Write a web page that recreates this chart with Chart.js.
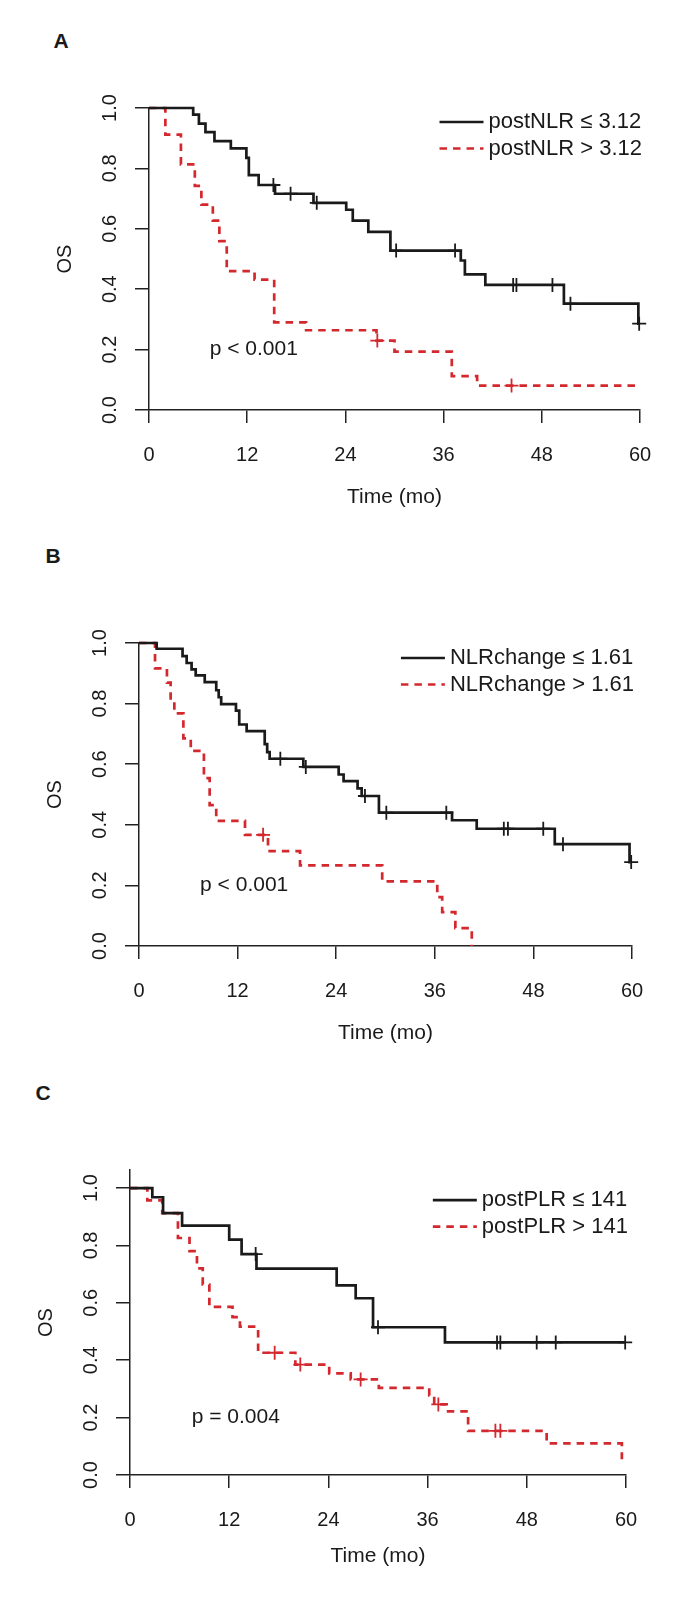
<!DOCTYPE html>
<html>
<head>
<meta charset="utf-8">
<script src="https://cdn.jsdelivr.net/npm/chart.js@4.4.1/dist/chart.umd.min.js"></script>
<style>
  html, body { margin: 0; padding: 0; background: #fff; }
  body { width: 690px; height: 1597px; position: relative; overflow: hidden; }
  canvas { position: absolute; left: 0; }
  .tag { position: absolute; font: bold 21px "Liberation Sans", Arial, sans-serif; color: #1a1a1a;
         line-height: 1; transform: translate(-50%, -50%); }
</style>
</head>
<body>
<div class="tag" style="left:61px;top:40px">A</div>
<div class="tag" style="left:53px;top:555px">B</div>
<div class="tag" style="left:43px;top:1092px">C</div>
<canvas id="chartA" width="690" height="530" style="top:0"></canvas>
<canvas id="chartB" width="690" height="535" style="top:530px"></canvas>
<canvas id="chartC" width="690" height="532" style="top:1065px"></canvas>
<script>
// axis ticks shared by all three panels
const monthTicks = [0, 12, 24, 36, 48, 60];
const osTicks = [0, 0.2, 0.4, 0.6, 0.8, 1.0];

// A: postNLR
const aLowTime = [0, 5.4, 6.1, 6.9, 8.0, 10.0, 11.9, 12.2, 13.4, 15.4, 20.1, 24.1, 24.9, 26.8, 29.5, 38.1, 38.6, 41.1, 50.7, 59.8, 60];
const aLowSurv = [1, 0.978, 0.948, 0.92, 0.89, 0.866, 0.835, 0.778, 0.745, 0.716, 0.686, 0.663, 0.627, 0.59, 0.528, 0.495, 0.449, 0.414, 0.352, 0.286, 0.286];
const aLowCensTime = [15.2, 17.3, 20.5, 30.2, 37.4, 44.5, 44.9, 49.3, 51.5, 59.9];
const aLowCensSurv = [0.745, 0.716, 0.686, 0.528, 0.528, 0.414, 0.414, 0.414, 0.352, 0.286];
const aHighTime = [0, 2.0, 3.9, 5.6, 6.4, 7.8, 8.6, 9.5, 12.9, 15.3, 19.2, 27.8, 30.0, 37.0, 40.1, 60];
const aHighSurv = [1, 0.912, 0.813, 0.742, 0.68, 0.627, 0.559, 0.46, 0.432, 0.29, 0.264, 0.23, 0.193, 0.112, 0.081, 0.081];
const aHighCensTime = [27.9, 44.3];
const aHighCensSurv = [0.23, 0.081];

// B: NLRchange
const bLowTime = [0, 2.15, 5.3, 5.8, 6.4, 6.9, 8.0, 9.4, 9.7, 10.0, 11.8, 12.2, 13.1, 15.3, 15.6, 15.9, 20.0, 24.3, 24.9, 26.6, 27.1, 29.2, 38.1, 41.1, 50.6, 59.7, 60];
const bLowSurv = [1, 0.981, 0.957, 0.934, 0.913, 0.893, 0.871, 0.844, 0.821, 0.798, 0.777, 0.731, 0.709, 0.666, 0.64, 0.618, 0.591, 0.566, 0.544, 0.52, 0.495, 0.44, 0.415, 0.387, 0.336, 0.277, 0.277];
const bLowCensTime = [17.2, 20.3, 27.5, 30.1, 37.4, 44.4, 44.9, 49.2, 51.6, 59.9];
const bLowCensSurv = [0.618, 0.591, 0.495, 0.44, 0.44, 0.387, 0.387, 0.387, 0.336, 0.277];
const bHighTime = [0, 1.95, 3.4, 3.85, 4.3, 5.4, 6.3, 7.9, 8.6, 9.4, 12.9, 15.7, 19.6, 29.6, 36.3, 36.9, 38.5, 40.5];
const bHighSurv = [1, 0.916, 0.869, 0.81, 0.768, 0.685, 0.644, 0.554, 0.465, 0.413, 0.367, 0.313, 0.266, 0.213, 0.161, 0.112, 0.059, 0];
const bHighCensTime = [15.1];
const bHighCensSurv = [0.367];

// C: postPLR
const cLowTime = [0, 2.7, 4.0, 6.3, 12.0, 13.5, 15.3, 25.0, 27.3, 29.4, 38.1, 60];
const cLowSurv = [1, 0.968, 0.913, 0.869, 0.82, 0.77, 0.719, 0.661, 0.616, 0.515, 0.462, 0.462];
const cLowCensTime = [15.2, 30.0, 44.4, 44.8, 49.2, 51.5, 59.9];
const cLowCensSurv = [0.77, 0.515, 0.462, 0.462, 0.462, 0.462, 0.462];
const cHighTime = [0, 2.1, 3.9, 5.8, 7.2, 8.1, 8.8, 9.6, 12.4, 13.3, 15.5, 20.0, 24.1, 26.7, 30.1, 36.2, 36.8, 38.3, 40.9, 50.4, 59.5];
const cHighSurv = [1, 0.957, 0.913, 0.826, 0.78, 0.72, 0.664, 0.586, 0.55, 0.517, 0.426, 0.385, 0.354, 0.333, 0.304, 0.277, 0.246, 0.222, 0.154, 0.11, 0.055];
const cHighCensTime = [17.5, 20.6, 27.9, 37.3, 44.2, 44.8];
const cHighCensSurv = [0.426, 0.385, 0.333, 0.246, 0.154, 0.154];

const FONT = '"Liberation Sans", Arial, sans-serif';
const INK = '#1a1a1a';
const RED = '#d3282e';
const RED_DASH = [7.5, 6];

Chart.defaults.font.family = FONT;
Chart.defaults.color = INK;

// p value and legend drawn on top of the plot
const kmExtras = {
  id: 'kmExtras',
  afterDatasetsDraw(chart, args, opts) {
    const { ctx, chartArea, scales } = chart;
    ctx.save();
    ctx.fillStyle = INK;
    ctx.textBaseline = 'middle';

    ctx.font = '21px ' + FONT;
    ctx.textAlign = 'center';
    ctx.fillText(opts.pText, scales.x.getPixelForValue(opts.pAt[0]), scales.y.getPixelForValue(opts.pAt[1]));

    ctx.font = '22px ' + FONT;
    ctx.textAlign = 'left';
    const widest = Math.max(...opts.items.map(it => ctx.measureText(it.text).width));
    const textX = chartArea.right + 2 - widest;
    const y0 = scales.y.getPixelForValue(1) + opts.legendTop;
    opts.items.forEach((it, i) => {
      const y = y0 + i * 26.5;
      ctx.strokeStyle = it.color;
      ctx.lineWidth = 2.7;
      ctx.setLineDash(it.dash);
      ctx.beginPath();
      ctx.moveTo(textX - 49, y);
      ctx.lineTo(textX - 5, y);
      ctx.stroke();
      ctx.setLineDash([]);
      ctx.fillText(it.text, textX, y);
    });
    ctx.restore();
  }
};

function pairs(xs, ys) {
  return xs.map((x, i) => ({ x: x, y: ys[i] }));
}

function curve(xs, ys, color, dash) {
  return {
    data: pairs(xs, ys), stepped: true, borderColor: color, borderWidth: 2.7,
    borderDash: dash, pointRadius: 0, fill: false, clip: false
  };
}

function censors(xs, ys, color) {
  return {
    data: pairs(xs, ys), showLine: false, pointStyle: 'cross', pointRadius: 7,
    pointBorderColor: color, pointBorderWidth: 1.8, clip: false
  };
}

function makeKM(id, cfg) {
  new Chart(document.getElementById(id), {
    type: 'line',
    data: {
      datasets: [
        curve(cfg.low[0], cfg.low[1], INK, []),
        curve(cfg.high[0], cfg.high[1], RED, RED_DASH),
        censors(cfg.lowCens[0], cfg.lowCens[1], INK),
        censors(cfg.highCens[0], cfg.highCens[1], RED)
      ]
    },
    options: {
      responsive: false,
      animation: false,
      devicePixelRatio: 1,
      layout: { autoPadding: false, padding: cfg.pad },
      plugins: {
        legend: { display: false },
        tooltip: { enabled: false },
        kmExtras: { pText: cfg.pText, pAt: [12.8, 0.2], legendTop: cfg.legendTop, items: [
          { text: cfg.labels[0], color: INK, dash: [] },
          { text: cfg.labels[1], color: RED, dash: RED_DASH }
        ] }
      },
      scales: {
        x: {
          type: 'linear', min: 0, max: 60,
          afterBuildTicks: s => { s.ticks = monthTicks.map(v => ({ value: v })); },
          grid: { display: true, drawOnChartArea: false, drawTicks: true, tickLength: 13, color: '#222', lineWidth: 1.5 },
          border: { display: true, color: '#222', width: 1.5 },
          ticks: { color: INK, font: { size: 20 }, padding: 20, maxRotation: 0 },
          title: { display: true, text: 'Time (mo)', color: INK, font: { size: 21 }, padding: { top: 0, bottom: 0 } },
          afterFit: s => { s.height = cfg.xh; s.paddingLeft = 0; s.paddingRight = 0; }
        },
        y: {
          type: 'linear', min: 0, max: cfg.ymax,
          afterBuildTicks: s => { s.ticks = osTicks.map(v => ({ value: v })); },
          grid: { display: true, drawOnChartArea: false, drawTicks: true, tickLength: 14, color: '#222', lineWidth: 1.5 },
          border: { display: true, color: '#222', width: 1.5 },
          ticks: { color: INK, font: { size: 20 }, padding: 11, minRotation: 90, maxRotation: 90,
                   crossAlign: 'center', callback: v => v.toFixed(1) },
          title: { display: true, text: 'OS', color: INK, font: { size: 20 }, padding: { top: 4, bottom: 0 } },
          afterFit: s => { s.width = 100; s.paddingTop = 0; s.paddingBottom = 0; }
        }
      }
    },
    plugins: [kmExtras]
  });
}

makeKM('chartA', {
  low: [aLowTime, aLowSurv], high: [aHighTime, aHighSurv],
  lowCens: [aLowCensTime, aLowCensSurv], highCens: [aHighCensTime, aHighCensSurv],
  labels: ['postNLR \u2264 3.12', 'postNLR > 3.12'], pText: 'p < 0.001',
  pad: { left: 49, right: 50, top: 108, bottom: 20 }, xh: 100, ymax: 1, legendTop: 14
});

makeKM('chartB', {
  low: [bLowTime, bLowSurv], high: [bHighTime, bHighSurv],
  lowCens: [bLowCensTime, bLowCensSurv], highCens: [bHighCensTime, bHighCensSurv],
  labels: ['NLRchange \u2264 1.61', 'NLRchange > 1.61'], pText: 'p < 0.001',
  pad: { left: 39, right: 58, top: 113, bottom: 19 }, xh: 100, ymax: 1, legendTop: 15
});

makeKM('chartC', {
  low: [cLowTime, cLowSurv], high: [cHighTime, cHighSurv],
  lowCens: [cLowCensTime, cLowCensSurv], highCens: [cHighCensTime, cHighCensSurv],
  labels: ['postPLR \u2264 141', 'postPLR > 141'], pText: 'p = 0.004',
  pad: { left: 30, right: 64, top: 105, bottom: 28 }, xh: 94, ymax: 1.063, legendTop: 12
});
</script>
</body>
</html>
